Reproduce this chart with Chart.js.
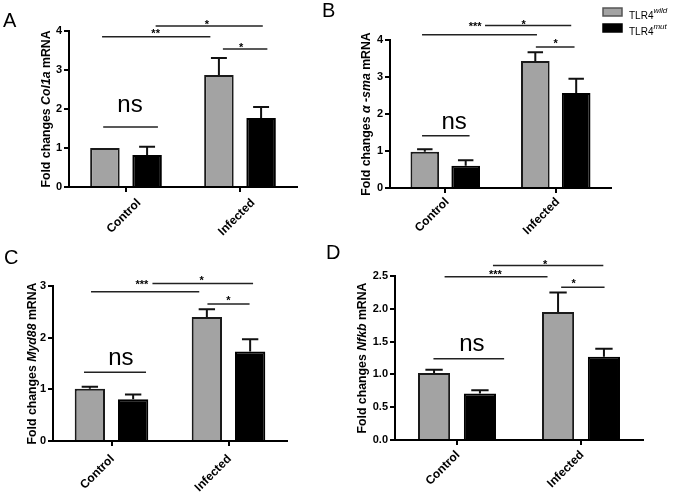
<!DOCTYPE html>
<html lang="en">
<head>
  <meta charset="utf-8">
  <title>TLR4 fold changes</title>
  <script src="https://cdn.jsdelivr.net/npm/chart.js@4.4.1/dist/chart.umd.min.js"></script>
  <style>
    body { margin: 0; background: #fff; }
    canvas { position: absolute; }
  </style>
</head>
<body>
<canvas id="panelA" width="320" height="240" style="left:0;top:0"></canvas>
<canvas id="panelB" width="355" height="240" style="left:320px;top:0"></canvas>
<canvas id="panelC" width="320" height="252" style="left:0;top:240px"></canvas>
<canvas id="panelD" width="355" height="252" style="left:320px;top:240px"></canvas>
<script>
// data
var categories = ['Control', 'Infected'];
var strains = ['wild', 'mut'];

var col1aWild = [1.00, 2.87];
var col1aWildErr = [0.00, 0.44];
var col1aMut = [0.82, 1.77];
var col1aMutErr = [0.21, 0.28];

var smaWild = [0.98, 3.43];
var smaWildErr = [0.07, 0.24];
var smaMut = [0.60, 2.57];
var smaMutErr = [0.15, 0.38];

var myd88Wild = [1.01, 2.40];
var myd88WildErr = [0.04, 0.15];
var myd88Mut = [0.81, 1.73];
var myd88MutErr = [0.09, 0.24];

var nfkbWild = [1.02, 1.95];
var nfkbWildErr = [0.05, 0.30];
var nfkbMut = [0.71, 1.27];
var nfkbMutErr = [0.05, 0.12];

var fam = '"Liberation Sans", Arial, sans-serif';
Chart.defaults.font.family = fam;
Chart.defaults.color = '#000';

// error bars, significance bars, y title with italic gene, panel letter, legend
var extras = {
  id: 'extras',
  afterDatasetsDraw: function(chart) {
    var ctx = chart.ctx, ys = chart.scales.y;
    ctx.save();
    chart.data.datasets.forEach(function(ds, i) {
      chart.getDatasetMeta(i).data.forEach(function(bar, j) {
        var err = ds.errors[j];
        if (!err) return;
        var top = ys.getPixelForValue(ds.data[j] + err);
        var cap = bar.width * 0.27;
        ctx.strokeStyle = '#111';
        ctx.lineWidth = 2;
        ctx.beginPath();
        ctx.moveTo(bar.x, bar.y);
        ctx.lineTo(bar.x, top);
        ctx.moveTo(bar.x - cap, top);
        ctx.lineTo(bar.x + cap, top);
        ctx.stroke();
      });
    });
    ctx.restore();
  },
  afterDraw: function(chart) {
    var p = chart.options.plugins.extras;
    var ctx = chart.ctx, xs = chart.scales.x, ys = chart.scales.y, area = chart.chartArea;
    var catW = xs.width / chart.data.labels.length;
    var px = function(f) { return xs.getPixelForValue(0) + f * catW; };
    ctx.save();
    ctx.fillStyle = '#000';

    // panel letter
    ctx.font = '20px ' + fam;
    ctx.textAlign = 'left';
    ctx.textBaseline = 'alphabetic';
    ctx.fillText(p.letter, p.letterX, p.letterY);

    // y axis title
    var fonts = ['bold 12.3px ' + fam, 'italic bold 12.3px ' + fam, 'bold 12.3px ' + fam];
    var total = 0;
    p.title.forEach(function(t, i) { ctx.font = fonts[i]; total += ctx.measureText(t).width; });
    ctx.save();
    ctx.translate(p.titleX, (area.top + area.bottom) / 2);
    ctx.rotate(-Math.PI / 2);
    ctx.textBaseline = 'middle';
    var cx = -total / 2;
    p.title.forEach(function(t, i) {
      ctx.font = fonts[i];
      ctx.fillText(t, cx, 0);
      cx += ctx.measureText(t).width;
    });
    ctx.restore();

    // significance bars
    ctx.textAlign = 'center';
    ctx.textBaseline = 'alphabetic';
    p.marks.forEach(function(m) {
      var yy = ys.getPixelForValue(m.at);
      ctx.strokeStyle = '#222';
      ctx.lineWidth = 1.5;
      ctx.beginPath();
      ctx.moveTo(px(m.from), yy);
      ctx.lineTo(px(m.to), yy);
      ctx.stroke();
      ctx.font = m.text === 'ns' ? '24px ' + fam : 'bold 11px ' + fam;
      var tm = ctx.measureText(m.text);
      var ty = ys.getPixelForValue(m.ty) + (tm.actualBoundingBoxAscent - tm.actualBoundingBoxDescent) / 2;
      ctx.fillText(m.text, px(m.tx), ty);
    });

    // legend
    if (p.legend) {
      var lg = p.legend;
      ctx.textAlign = 'left';
      chart.data.datasets.forEach(function(ds, i) {
        var y0 = lg.y + i * lg.step;
        ctx.fillStyle = ds.backgroundColor;
        ctx.fillRect(lg.x, y0, 19, 8);
        ctx.strokeStyle = ds.legendBorder;
        ctx.lineWidth = 1.5;
        ctx.strokeRect(lg.x, y0, 19, 8);
        ctx.fillStyle = '#000';
        ctx.font = '10px ' + fam;
        ctx.fillText('TLR4', lg.x + 26, y0 + 11);
        var w = ctx.measureText('TLR4').width;
        ctx.font = 'italic 8px ' + fam;
        ctx.fillText(strains[i], lg.x + 26 + w, y0 + 5);
      });
    }
    ctx.restore();
  }
};

function makePanel(id, cfg) {
  new Chart(document.getElementById(id), {
    type: 'bar',
    data: {
      labels: categories,
      datasets: [
        { label: strains[0], data: cfg.wild, errors: cfg.wildErr, backgroundColor: '#a3a3a3',
          borderColor: '#1a1a1a', legendBorder: '#555', borderWidth: 2,
          categoryPercentage: 0.74, barPercentage: 0.7 },
        { label: strains[1], data: cfg.mut, errors: cfg.mutErr, backgroundColor: '#000',
          borderColor: '#000', legendBorder: '#000', borderWidth: 2,
          categoryPercentage: 0.74, barPercentage: 0.7 }
      ]
    },
    options: {
      responsive: false,
      animation: false,
      layout: { padding: cfg.pad },
      plugins: {
        legend: { display: false },
        tooltip: { enabled: false },
        extras: cfg.extras
      },
      scales: {
        x: {
          grid: { drawOnChartArea: false, offset: false, color: '#000', lineWidth: 2, tickLength: 5 },
          border: { color: '#000', width: 2 },
          ticks: { minRotation: 45, maxRotation: 45, labelOffset: cfg.xOff, padding: cfg.xPad,
                   font: { size: 12, weight: 'bold' } },
          afterFit: function(s) { s.height = cfg.xh; }
        },
        y: {
          min: 0,
          max: cfg.max,
          grid: { drawOnChartArea: false, color: '#000', lineWidth: 2, tickLength: 5 },
          border: { color: '#000', width: 2 },
          ticks: { stepSize: cfg.step, padding: 2, font: { size: 11, weight: 'bold' },
                   callback: function(v) { return cfg.step < 1 ? v.toFixed(1) : v; } },
          afterFit: function(s) { s.width = 30; }
        }
      }
    },
    plugins: [extras]
  });
}

makePanel('panelA', {
  wild: col1aWild, wildErr: col1aWildErr, mut: col1aMut, mutErr: col1aMutErr,
  max: 4, step: 1, xh: 53, xOff: 13, xPad: 4, pad: { left: 39, top: 31, right: 23, bottom: 0 },
  extras: {
    letter: 'A', letterX: 3, letterY: 27, titleX: 47,
    title: ['Fold changes ', 'Col1a', ' mRNA'],
    marks: [
      { from: -0.21, to: 0.74, at: 3.85, text: '**', tx: 0.26, ty: 4.0 },
      { from: 0.26, to: 1.20, at: 4.13, text: '*', tx: 0.71, ty: 4.22 },
      { from: 0.85, to: 1.24, at: 3.54, text: '*', tx: 1.01, ty: 3.64 },
      { from: -0.20, to: 0.28, at: 1.54, text: 'ns', tx: 0.035, ty: 2.08 }
    ]
  }
});

makePanel('panelB', {
  wild: smaWild, wildErr: smaWildErr, mut: smaMut, mutErr: smaMutErr,
  max: 4, step: 1, xh: 52, xOff: 2, xPad: 2, pad: { left: 40, top: 40, right: 64, bottom: 0 },
  extras: {
    letter: 'B', letterX: 2, letterY: 17, titleX: 47,
    title: ['Fold changes ', '\u03b1 -sma', ' mRNA'],
    marks: [
      { from: -0.21, to: 0.83, at: 4.14, text: '***', tx: 0.27, ty: 4.41 },
      { from: 0.36, to: 1.14, at: 4.39, text: '*', tx: 0.71, ty: 4.46 },
      { from: 0.82, to: 1.17, at: 3.81, text: '*', tx: 1.0, ty: 3.95 },
      { from: -0.21, to: 0.22, at: 1.41, text: 'ns', tx: 0.08, ty: 1.78 }
    ],
    legend: { x: 283, y: 8, step: 16 }
  }
});

makePanel('panelC', {
  wild: myd88Wild, wildErr: myd88WildErr, mut: myd88Mut, mutErr: myd88MutErr,
  max: 3, step: 1, xh: 51, xOff: 1, xPad: 6, pad: { left: 23, top: 46, right: 33, bottom: 0 },
  extras: {
    letter: 'C', letterX: 4, letterY: 24, titleX: 33,
    title: ['Fold changes ', 'Myd88', ' mRNA'],
    marks: [
      { from: -0.175, to: 0.75, at: 2.89, text: '***', tx: 0.26, ty: 3.06 },
      { from: 0.35, to: 1.21, at: 3.05, text: '*', tx: 0.77, ty: 3.15 },
      { from: 0.82, to: 1.18, at: 2.65, text: '*', tx: 1.0, ty: 2.75 },
      { from: -0.235, to: 0.295, at: 1.33, text: 'ns', tx: 0.08, ty: 1.60 }
    ]
  }
});

makePanel('panelD', {
  wild: nfkbWild, wildErr: nfkbWildErr, mut: nfkbMut, mutErr: nfkbMutErr,
  max: 2.5, step: 0.5, xh: 52, xOff: 1, xPad: 3, pad: { left: 45, top: 36, right: 32, bottom: 0 },
  extras: {
    letter: 'D', letterX: 6, letterY: 19, titleX: 43,
    title: ['Fold changes ', 'Nfkb', ' mRNA'],
    marks: [
      { from: -0.10, to: 0.73, at: 2.49, text: '***', tx: 0.31, ty: 2.56 },
      { from: 0.29, to: 1.18, at: 2.66, text: '*', tx: 0.71, ty: 2.71 },
      { from: 0.84, to: 1.19, at: 2.33, text: '*', tx: 0.94, ty: 2.42 },
      { from: -0.19, to: 0.38, at: 1.24, text: 'ns', tx: 0.12, ty: 1.45 }
    ]
  }
});
</script>
</body>
</html>
